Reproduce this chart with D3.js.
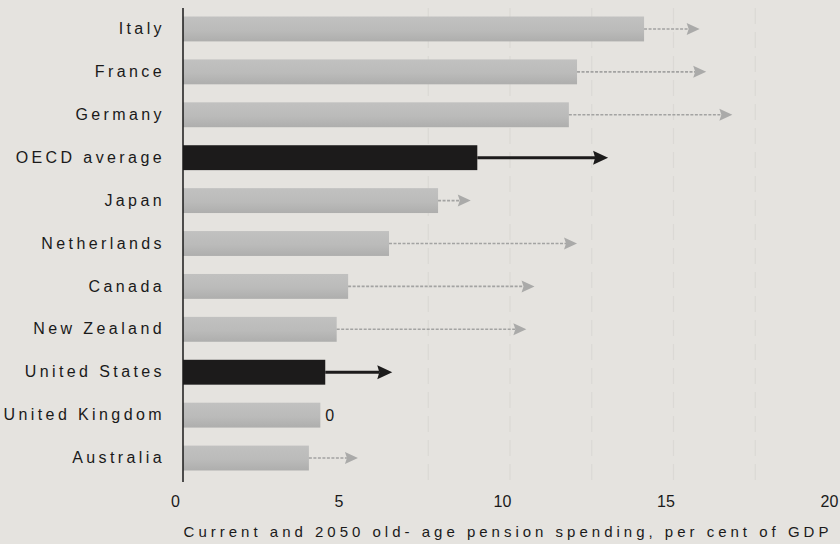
<!DOCTYPE html>
<html>
<head>
<meta charset="utf-8">
<script src="https://cdn.jsdelivr.net/npm/d3@7"></script>
<style>
  html, body { margin: 0; padding: 0; background: #e5e3df; }
  svg { display: block; }
  text { font-family: "Liberation Sans", Arial, sans-serif; fill: #1a1a1a; }
</style>
</head>
<body>
<svg id="chart" width="840" height="544"></svg>
<script>
// Old-age pension spending, per cent of GDP: current level (bar) and 2050 projection (arrow tip)
const categories = ["Italy", "France", "Germany", "OECD average", "Japan", "Netherlands",
                    "Canada", "New Zealand", "United States", "United Kingdom", "Australia"];
const currentSpending = [14.1, 12.05, 11.8, 9.0, 7.8, 6.3, 5.05, 4.7, 4.35, 4.2, 3.85];
const spending2050 = [15.8, 16.0, 16.8, 13.0, 8.8, 12.05, 10.75, 10.5, 6.4, 4.2, 5.35];
const highlighted = ["OECD average", "United States"];
const xTicks = [0, 5, 10, 15, 20];
const gridValues = [7.5, 10, 12.5, 15, 17.5];
const axisTitle = "Current and 2050 old- age pension spending, per cent of GDP";

const rows = categories.map((c, i) => ({
  name: c, now: currentSpending[i], later: spending2050[i], dark: highlighted.includes(c)
}));

const svg = d3.select("#chart");
const x = d3.scaleLinear().domain([0, 20]).range([183, 837]);
const y = d3.scaleBand().domain(categories).range([7.5, 479.5])
  .paddingInner(0.42).paddingOuter(0.21);

// bar shading
const defs = svg.append("defs");
const grad = defs.append("linearGradient").attr("id", "barGray")
  .attr("x1", 0).attr("x2", 0).attr("y1", 0).attr("y2", 1);
grad.append("stop").attr("offset", "0%").attr("stop-color", "#c1c1c0");
grad.append("stop").attr("offset", "55%").attr("stop-color", "#bbbbba");
grad.append("stop").attr("offset", "100%").attr("stop-color", "#aeaead");

// faint vertical gridlines
svg.append("g").selectAll("line").data(gridValues).join("line")
  .attr("x1", d => x(d)).attr("x2", d => x(d))
  .attr("y1", 8).attr("y2", 482)
  .attr("stroke", "#dbd9d5").attr("stroke-width", 1.2)
  .attr("stroke-dasharray", "16,8");

// bars
svg.append("g").selectAll("rect").data(rows).join("rect")
  .attr("x", x(0))
  .attr("y", d => y(d.name))
  .attr("width", d => x(d.now) - x(0))
  .attr("height", y.bandwidth())
  .attr("fill", d => d.dark ? "#1c1b1b" : "url(#barGray)");

// arrows from current level to 2050 level
const arrows = svg.append("g");
rows.filter(d => d.later > d.now).forEach(d => {
  const cy = y(d.name) + y.bandwidth() / 2;
  const headLen = d.dark ? 15 : 13;
  const headHalf = d.dark ? 7 : 6;
  const tip = x(d.later);
  arrows.append("line")
    .attr("x1", x(d.now)).attr("x2", tip - headLen + 2)
    .attr("y1", cy).attr("y2", cy)
    .attr("stroke", d.dark ? "#1c1b1b" : "#a3a3a2")
    .attr("stroke-width", d.dark ? 3 : 1.6)
    .attr("stroke-dasharray", d.dark ? null : "3,1.5");
  arrows.append("path")
    .attr("d", `M${tip},${cy}L${tip - headLen},${cy - headHalf}L${tip - headLen + 2},${cy}L${tip - headLen},${cy + headHalf}Z`)
    .attr("fill", d.dark ? "#1c1b1b" : "#aaaaa9");
});

// unchanged level marker
rows.filter(d => d.later === d.now).forEach(d => {
  svg.append("text")
    .attr("x", x(d.now) + 5)
    .attr("y", y(d.name) + y.bandwidth() / 2)
    .attr("dy", "0.36em")
    .style("font-size", "16px")
    .text("0");
});

// category axis
const yAxis = svg.append("g")
  .attr("transform", `translate(${x(0)},0)`)
  .call(d3.axisLeft(y).tickSize(0).tickPadding(18));
yAxis.select(".domain").attr("stroke", "#1a1a1a").attr("stroke-width", 1.5)
  .attr("d", "M0,8V482");
yAxis.selectAll("text")
  .style("font-family", "'Liberation Sans', Arial, sans-serif")
  .style("font-size", "16px")
  .style("letter-spacing", "3.4px")
  .attr("fill", "#1a1a1a");

// value axis labels (no axis line)
const xAxis = svg.append("g")
  .attr("transform", "translate(-8,493)")
  .call(d3.axisBottom(x).tickValues(xTicks).tickSize(0).tickPadding(3).tickFormat(d3.format("d")));
xAxis.select(".domain").remove();
xAxis.selectAll("text")
  .style("font-family", "'Liberation Sans', Arial, sans-serif")
  .style("font-size", "16px")
  .attr("fill", "#1a1a1a");

svg.append("text")
  .attr("x", 508).attr("y", 537)
  .attr("text-anchor", "middle")
  .style("font-size", "15px")
  .style("letter-spacing", "4px")
  .text(axisTitle);
</script>
</body>
</html>
